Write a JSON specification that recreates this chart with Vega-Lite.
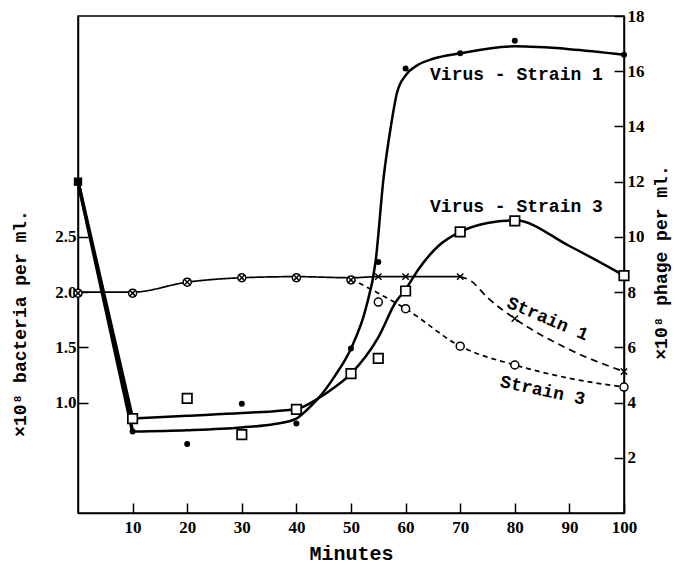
{
  "$schema": "https://vega.github.io/schema/vega-lite/v6.json",
  "width": 546,
  "height": 497,
  "autosize": {"type": "none"},
  "padding": {"left": 78, "top": 16, "right": 54, "bottom": 52},
  "background": "white",
  "config": {
    "view": {"stroke": "black", "strokeWidth": 1.5},
    "axis": {
      "grid": false,
      "domainColor": "black",
      "domainWidth": 1.5,
      "tickColor": "black",
      "tickWidth": 1.5,
      "labelColor": "black",
      "titleColor": "black",
      "labelFont": "Liberation Serif",
      "labelFontSize": 17,
      "labelFontWeight": "bold",
      "labelFlush": false,
      "titleFont": "Liberation Mono",
      "titleFontSize": 18,
      "titleFontWeight": "bold"
    }
  },
  "datasets": {
    "bact_curve": [
      {"t": 0, "count": 2.0, "seg": "Strain 1 solid"},
      {"t": 10, "count": 2.0, "seg": "Strain 1 solid"},
      {"t": 20, "count": 2.09, "seg": "Strain 1 solid"},
      {"t": 30, "count": 2.13, "seg": "Strain 1 solid"},
      {"t": 40, "count": 2.14, "seg": "Strain 1 solid"},
      {"t": 50, "count": 2.13, "seg": "Strain 1 solid"},
      {"t": 55, "count": 2.14, "seg": "Strain 1 solid"},
      {"t": 60, "count": 2.14, "seg": "Strain 1 solid"},
      {"t": 70, "count": 2.14, "seg": "Strain 1 solid"},
      {"t": 70, "count": 2.14, "seg": "Strain 1 dashed"},
      {"t": 72, "count": 2.1, "seg": "Strain 1 dashed"},
      {"t": 75, "count": 1.95, "seg": "Strain 1 dashed"},
      {"t": 80, "count": 1.76, "seg": "Strain 1 dashed"},
      {"t": 90, "count": 1.48, "seg": "Strain 1 dashed"},
      {"t": 100, "count": 1.28, "seg": "Strain 1 dashed"},
      {"t": 50, "count": 2.12, "seg": "Strain 3 dashed"},
      {"t": 55, "count": 1.99, "seg": "Strain 3 dashed"},
      {"t": 60, "count": 1.85, "seg": "Strain 3 dashed"},
      {"t": 70, "count": 1.51, "seg": "Strain 3 dashed"},
      {"t": 80, "count": 1.34, "seg": "Strain 3 dashed"},
      {"t": 90, "count": 1.22, "seg": "Strain 3 dashed"},
      {"t": 100, "count": 1.14, "seg": "Strain 3 dashed"}
    ],
    "bact_pts": [
      {"t": 0, "count": 1.99, "strain": "Strain 1"},
      {"t": 10, "count": 1.99, "strain": "Strain 1"},
      {"t": 20, "count": 2.09, "strain": "Strain 1"},
      {"t": 30, "count": 2.13, "strain": "Strain 1"},
      {"t": 40, "count": 2.13, "strain": "Strain 1"},
      {"t": 50, "count": 2.11, "strain": "Strain 1"},
      {"t": 55, "count": 2.14, "strain": "Strain 1"},
      {"t": 60, "count": 2.14, "strain": "Strain 1"},
      {"t": 70, "count": 2.14, "strain": "Strain 1"},
      {"t": 80, "count": 1.76, "strain": "Strain 1"},
      {"t": 100, "count": 1.28, "strain": "Strain 1"},
      {"t": 0, "count": 1.99, "strain": "Strain 3"},
      {"t": 10, "count": 1.99, "strain": "Strain 3"},
      {"t": 20, "count": 2.09, "strain": "Strain 3"},
      {"t": 30, "count": 2.13, "strain": "Strain 3"},
      {"t": 40, "count": 2.13, "strain": "Strain 3"},
      {"t": 50, "count": 2.11, "strain": "Strain 3"},
      {"t": 55, "count": 1.91, "strain": "Strain 3"},
      {"t": 60, "count": 1.85, "strain": "Strain 3"},
      {"t": 70, "count": 1.51, "strain": "Strain 3"},
      {"t": 80, "count": 1.34, "strain": "Strain 3"},
      {"t": 100, "count": 1.14, "strain": "Strain 3"}
    ],
    "virus_drop": [
      {"t": 0, "phage": 12, "virus": "Virus - Strain 1"},
      {"t": 10, "phage": 2.95, "virus": "Virus - Strain 1"},
      {"t": 0, "phage": 12, "virus": "Virus - Strain 3"},
      {"t": 10, "phage": 3.42, "virus": "Virus - Strain 3"}
    ],
    "virus_curve": [
      {"t": 10, "phage": 2.95, "virus": "Virus - Strain 1"},
      {"t": 20, "phage": 3.0, "virus": "Virus - Strain 1"},
      {"t": 30, "phage": 3.1, "virus": "Virus - Strain 1"},
      {"t": 36, "phage": 3.22, "virus": "Virus - Strain 1"},
      {"t": 40, "phage": 3.42, "virus": "Virus - Strain 1"},
      {"t": 42, "phage": 3.75, "virus": "Virus - Strain 1"},
      {"t": 44, "phage": 4.15, "virus": "Virus - Strain 1"},
      {"t": 47, "phage": 4.95, "virus": "Virus - Strain 1"},
      {"t": 50, "phage": 5.96, "virus": "Virus - Strain 1"},
      {"t": 52.7, "phage": 7.4, "virus": "Virus - Strain 1"},
      {"t": 54.5, "phage": 9.1, "virus": "Virus - Strain 1"},
      {"t": 56, "phage": 12.2, "virus": "Virus - Strain 1"},
      {"t": 57.3, "phage": 14.0, "virus": "Virus - Strain 1"},
      {"t": 58.4, "phage": 15.2, "virus": "Virus - Strain 1"},
      {"t": 60, "phage": 15.85, "virus": "Virus - Strain 1"},
      {"t": 62, "phage": 16.2, "virus": "Virus - Strain 1"},
      {"t": 65, "phage": 16.45, "virus": "Virus - Strain 1"},
      {"t": 70, "phage": 16.65, "virus": "Virus - Strain 1"},
      {"t": 80, "phage": 16.9, "virus": "Virus - Strain 1"},
      {"t": 90, "phage": 16.8, "virus": "Virus - Strain 1"},
      {"t": 100, "phage": 16.6, "virus": "Virus - Strain 1"},
      {"t": 10, "phage": 3.42, "virus": "Virus - Strain 3"},
      {"t": 20, "phage": 3.52, "virus": "Virus - Strain 3"},
      {"t": 30, "phage": 3.62, "virus": "Virus - Strain 3"},
      {"t": 40, "phage": 3.77, "virus": "Virus - Strain 3"},
      {"t": 44, "phage": 4.15, "virus": "Virus - Strain 3"},
      {"t": 47, "phage": 4.55, "virus": "Virus - Strain 3"},
      {"t": 50, "phage": 5.05, "virus": "Virus - Strain 3"},
      {"t": 55, "phage": 6.36, "virus": "Virus - Strain 3"},
      {"t": 58.2, "phage": 7.64, "virus": "Virus - Strain 3"},
      {"t": 60, "phage": 8.1, "virus": "Virus - Strain 3"},
      {"t": 62.4, "phage": 8.84, "virus": "Virus - Strain 3"},
      {"t": 66, "phage": 9.67, "virus": "Virus - Strain 3"},
      {"t": 70, "phage": 10.18, "virus": "Virus - Strain 3"},
      {"t": 75, "phage": 10.5, "virus": "Virus - Strain 3"},
      {"t": 80, "phage": 10.6, "virus": "Virus - Strain 3"},
      {"t": 90, "phage": 9.67, "virus": "Virus - Strain 3"},
      {"t": 100, "phage": 8.6, "virus": "Virus - Strain 3"}
    ],
    "virus_pts": [
      {"t": 0, "phage": 12, "virus": "Both"},
      {"t": 10, "phage": 2.95, "virus": "Virus - Strain 1"},
      {"t": 20, "phage": 2.5, "virus": "Virus - Strain 1"},
      {"t": 30, "phage": 3.96, "virus": "Virus - Strain 1"},
      {"t": 40, "phage": 3.24, "virus": "Virus - Strain 1"},
      {"t": 50, "phage": 5.96, "virus": "Virus - Strain 1"},
      {"t": 55, "phage": 9.09, "virus": "Virus - Strain 1"},
      {"t": 60, "phage": 16.1, "virus": "Virus - Strain 1"},
      {"t": 70, "phage": 16.65, "virus": "Virus - Strain 1"},
      {"t": 80, "phage": 17.1, "virus": "Virus - Strain 1"},
      {"t": 100, "phage": 16.6, "virus": "Virus - Strain 1"},
      {"t": 10, "phage": 3.42, "virus": "Virus - Strain 3"},
      {"t": 20, "phage": 4.15, "virus": "Virus - Strain 3"},
      {"t": 30, "phage": 2.84, "virus": "Virus - Strain 3"},
      {"t": 40, "phage": 3.75, "virus": "Virus - Strain 3"},
      {"t": 50, "phage": 5.05, "virus": "Virus - Strain 3"},
      {"t": 55, "phage": 5.6, "virus": "Virus - Strain 3"},
      {"t": 60, "phage": 8.04, "virus": "Virus - Strain 3"},
      {"t": 70, "phage": 10.18, "virus": "Virus - Strain 3"},
      {"t": 80, "phage": 10.58, "virus": "Virus - Strain 3"},
      {"t": 100, "phage": 8.6, "virus": "Virus - Strain 3"}
    ],
    "virus_labels": [
      {"t": 80.3, "phage": 15.85, "label": "Virus - Strain 1"},
      {"t": 80.3, "phage": 11.1, "label": "Virus - Strain 3"}
    ]
  },
  "encoding": {
    "x": {
      "field": "t",
      "type": "quantitative",
      "scale": {"domain": [0, 100], "nice": false, "zero": false},
      "axis": {
        "values": [10, 20, 30, 40, 50, 60, 70, 80, 90, 100],
        "tickSize": -10,
        "labelPadding": 16,
        "title": "Minutes",
        "titleFontSize": 20,
        "titleBaseline": "middle",
        "titleY": 40
      }
    }
  },
  "layer": [
    {
      "encoding": {
        "y": {
          "field": "count",
          "type": "quantitative",
          "scale": {"domain": [0, 4.5], "nice": false, "zero": false},
          "axis": {
            "values": [1.0, 1.5, 2.0, 2.5],
            "format": ".1f",
            "tickSize": -10,
            "labelPadding": 12,
            "title": "×10⁸ bacteria per ml.",
            "titleAngle": 270,
            "titleBaseline": "middle",
            "titleAlign": "center",
            "titleX": -58,
            "titleY": 307
          }
        }
      },
      "layer": [
        {
          "data": {"name": "bact_curve"},
          "mark": {"type": "line", "interpolate": "monotone", "color": "black", "strokeWidth": 1.7},
          "encoding": {
            "detail": {"field": "seg", "type": "nominal"},
            "strokeDash": {
              "field": "seg",
              "type": "nominal",
              "scale": {"domain": ["Strain 1 solid", "Strain 1 dashed", "Strain 3 dashed"], "range": [[1, 0], [7, 5], [5, 4]]},
              "legend": null
            }
          }
        },
        {
          "data": {"name": "bact_pts"},
          "transform": [{"filter": "datum.strain === 'Strain 3'"}],
          "mark": {"type": "point", "shape": "circle", "filled": true, "fill": "white", "stroke": "black", "strokeWidth": 1.5, "size": 64, "opacity": 1}
        },
        {
          "data": {"name": "bact_pts"},
          "transform": [{"filter": "datum.strain === 'Strain 1'"}],
          "mark": {"type": "point", "shape": "M-1,-1L1,1M-1,1L1,-1", "filled": false, "stroke": "black", "strokeWidth": 1.5, "size": 40, "opacity": 1}
        },
        {
          "data": {"values": [{"t": 86, "count": 1.755, "label": "Strain 1"}]},
          "mark": {"type": "text", "angle": 23, "font": "Liberation Mono", "fontSize": 18, "fontWeight": "bold", "align": "center", "baseline": "middle", "color": "black"},
          "encoding": {"text": {"field": "label", "type": "nominal"}}
        },
        {
          "data": {"values": [{"t": 85.1, "count": 1.105, "label": "Strain 3"}]},
          "mark": {"type": "text", "angle": 12, "font": "Liberation Mono", "fontSize": 18, "fontWeight": "bold", "align": "center", "baseline": "middle", "color": "black"},
          "encoding": {"text": {"field": "label", "type": "nominal"}}
        }
      ]
    },
    {
      "encoding": {
        "y": {
          "field": "phage",
          "type": "quantitative",
          "scale": {"domain": [0, 18], "nice": false, "zero": false},
          "axis": {
            "orient": "right",
            "values": [2, 4, 6, 8, 10, 12, 14, 16, 18],
            "tickSize": -10,
            "labelPadding": 13,
            "title": "×10⁸ phage per ml.",
            "titleAngle": 270,
            "titleBaseline": "middle",
            "titleAlign": "center",
            "titleX": 37,
            "titleY": 246
          }
        }
      },
      "layer": [
        {
          "data": {"name": "virus_drop"},
          "mark": {"type": "line", "color": "black", "strokeWidth": 3.4},
          "encoding": {"detail": {"field": "virus", "type": "nominal"}}
        },
        {
          "data": {"name": "virus_curve"},
          "mark": {"type": "line", "interpolate": "monotone", "color": "black", "strokeWidth": 2.5},
          "encoding": {"detail": {"field": "virus", "type": "nominal"}}
        },
        {
          "data": {"name": "virus_pts"},
          "transform": [{"filter": "datum.virus === 'Virus - Strain 3'"}],
          "mark": {"type": "point", "shape": "square", "filled": true, "fill": "white", "stroke": "black", "strokeWidth": 1.7, "size": 90, "opacity": 1}
        },
        {
          "data": {"name": "virus_pts"},
          "transform": [{"filter": "datum.virus === 'Virus - Strain 1'"}],
          "mark": {"type": "point", "shape": "circle", "filled": true, "color": "black", "size": 36, "opacity": 1}
        },
        {
          "data": {"name": "virus_pts"},
          "transform": [{"filter": "datum.virus === 'Both'"}],
          "mark": {"type": "point", "shape": "square", "filled": true, "color": "black", "size": 70, "opacity": 1}
        },
        {
          "data": {"name": "virus_labels"},
          "mark": {"type": "text", "font": "Liberation Mono", "fontSize": 18, "fontWeight": "bold", "align": "center", "baseline": "middle", "color": "black"},
          "encoding": {"text": {"field": "label", "type": "nominal"}}
        }
      ]
    }
  ],
  "resolve": {"scale": {"y": "independent"}}
}
